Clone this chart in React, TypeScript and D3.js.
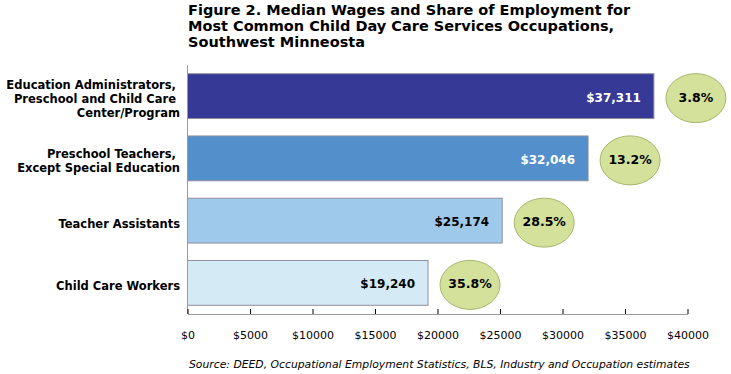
import { axisBottom, scaleBand, scaleLinear, select } from "d3";
import React, { useEffect, useRef } from "react";

const titleLines = [
  "Figure 2. Median Wages and Share of Employment for",
  "Most Common Child Day Care Services Occupations,",
  "Southwest Minneosta",
];
const occupations = [
  ["Education Administrators, ", "Preschool and Child Care ", "Center/Program"],
  ["Preschool Teachers, ", "Except Special Education"],
  ["Teacher Assistants"],
  ["Child Care Workers"],
];
const medianWages = [37311, 32046, 25174, 19240];
const employmentShare = [3.8, 13.2, 28.5, 35.8];
const barColors = ["#363995", "#528fcb", "#9fc9ea", "#d4eaf5"];
const labelColors = ["#ffffff", "#ffffff", "#000000", "#000000"];
const wageTicks = [0, 5000, 10000, 15000, 20000, 25000, 30000, 35000, 40000];
const source =
  "Source: DEED, Occupational Employment Statistics, BLS, Industry and Occupation estimates";

const FONT = "'DejaVu Sans', Verdana, sans-serif";

function WageChart() {
  const svgRef = useRef(null);

  useEffect(() => {
    const svg = select(svgRef.current);
    svg.selectAll("*").remove();

    const idx = medianWages.map((d, i) => i);
    const x = scaleLinear().domain([0, 40000]).range([187.5, 687.5]);
    const y = scaleBand()
      .domain(idx)
      .range([65, 314])
      .paddingInner(0.28)
      .paddingOuter(0.14);
    const bw = y.bandwidth();

    // title
    svg
      .append("g")
      .selectAll("text")
      .data(titleLines)
      .join("text")
      .attr("x", 188)
      .attr("y", (d, i) => 15 + i * 16)
      .style("font-family", FONT)
      .style("font-size", "14.5px")
      .style("font-weight", "bold")
      .attr("fill", "#000")
      .text((d) => d);

    // bars
    svg
      .append("g")
      .selectAll("rect")
      .data(medianWages)
      .join("rect")
      .attr("x", x(0))
      .attr("y", (d, i) => y(i))
      .attr("width", (d) => x(d) - x(0))
      .attr("height", bw)
      .attr("fill", (d, i) => barColors[i])
      .attr("stroke", "#8e8e9e")
      .attr("stroke-width", 1);

    // vertical axis line
    svg
      .append("line")
      .attr("x1", x(0))
      .attr("x2", x(0))
      .attr("y1", 65)
      .attr("y2", 314)
      .attr("stroke", "#9a9a9a");

    // x axis
    const xAxis = axisBottom(x)
      .tickValues(wageTicks)
      .tickSize(-5)
      .tickSizeOuter(0)
      .tickPadding(17)
      .tickFormat((d) => `$${d}`);
    const gx = svg.append("g").attr("transform", "translate(0,314)").call(xAxis);
    gx.select(".domain").attr("stroke", "#9a9a9a");
    gx.selectAll(".tick line").attr("stroke", "#000");
    gx.selectAll(".tick text")
      .style("font-family", FONT)
      .style("font-size", "11px")
      .attr("fill", "#000");

    // category labels
    svg
      .append("g")
      .selectAll("text")
      .data(occupations)
      .join("text")
      .attr("text-anchor", "end")
      .attr("xml:space", "preserve")
      .style("font-family", FONT)
      .style("font-size", "11.5px")
      .style("font-weight", "bold")
      .attr("fill", "#000")
      .each(function (lines, i) {
        const cy = y(i) + bw / 2 + 3;
        select(this)
          .selectAll("tspan")
          .data(lines)
          .join("tspan")
          .attr("x", 180)
          .attr("y", (d, j) => cy + (j - (lines.length - 1) / 2) * 14)
          .attr("dominant-baseline", "central")
          .text((d) => d);
      });

    // wage labels inside bars
    svg
      .append("g")
      .selectAll("text")
      .data(medianWages)
      .join("text")
      .attr("x", (d) => x(d) - 13)
      .attr("y", (d, i) => y(i) + bw / 2 + 1.5)
      .attr("text-anchor", "end")
      .attr("dominant-baseline", "central")
      .style("font-family", FONT)
      .style("font-size", "12px")
      .style("font-weight", "bold")
      .attr("fill", (d, i) => labelColors[i])
      .text((d) => `$${d.toLocaleString("en-US")}`);

    // share bubbles
    const bubbles = svg
      .append("g")
      .selectAll("g")
      .data(employmentShare)
      .join("g")
      .attr(
        "transform",
        (d, i) => `translate(${x(medianWages[i]) + 42},${y(i) + bw / 2 + 2})`
      );
    bubbles
      .append("ellipse")
      .attr("rx", 30)
      .attr("ry", 24.5)
      .attr("fill", "#d4e19b")
      .attr("stroke", "#a6b56b")
      .attr("stroke-width", 1);
    bubbles
      .append("text")
      .attr("text-anchor", "middle")
      .attr("dominant-baseline", "central")
      .attr("y", -1)
      .style("font-family", FONT)
      .style("font-size", "12.5px")
      .style("font-weight", "bold")
      .attr("fill", "#000")
      .text((d) => `${d}%`);

    // source
    svg
      .append("text")
      .attr("x", 189)
      .attr("y", 368)
      .style("font-family", FONT)
      .style("font-size", "10.8px")
      .style("font-style", "italic")
      .attr("fill", "#000")
      .text(source);
  });

  return <svg ref={svgRef} width={731} height={374} />;
}

export default function App() {
  return (
    <div style={{ position: "absolute", left: 0, top: 0, width: 731, height: 374, background: "#fff" }}>
      <WageChart />
    </div>
  );
}
